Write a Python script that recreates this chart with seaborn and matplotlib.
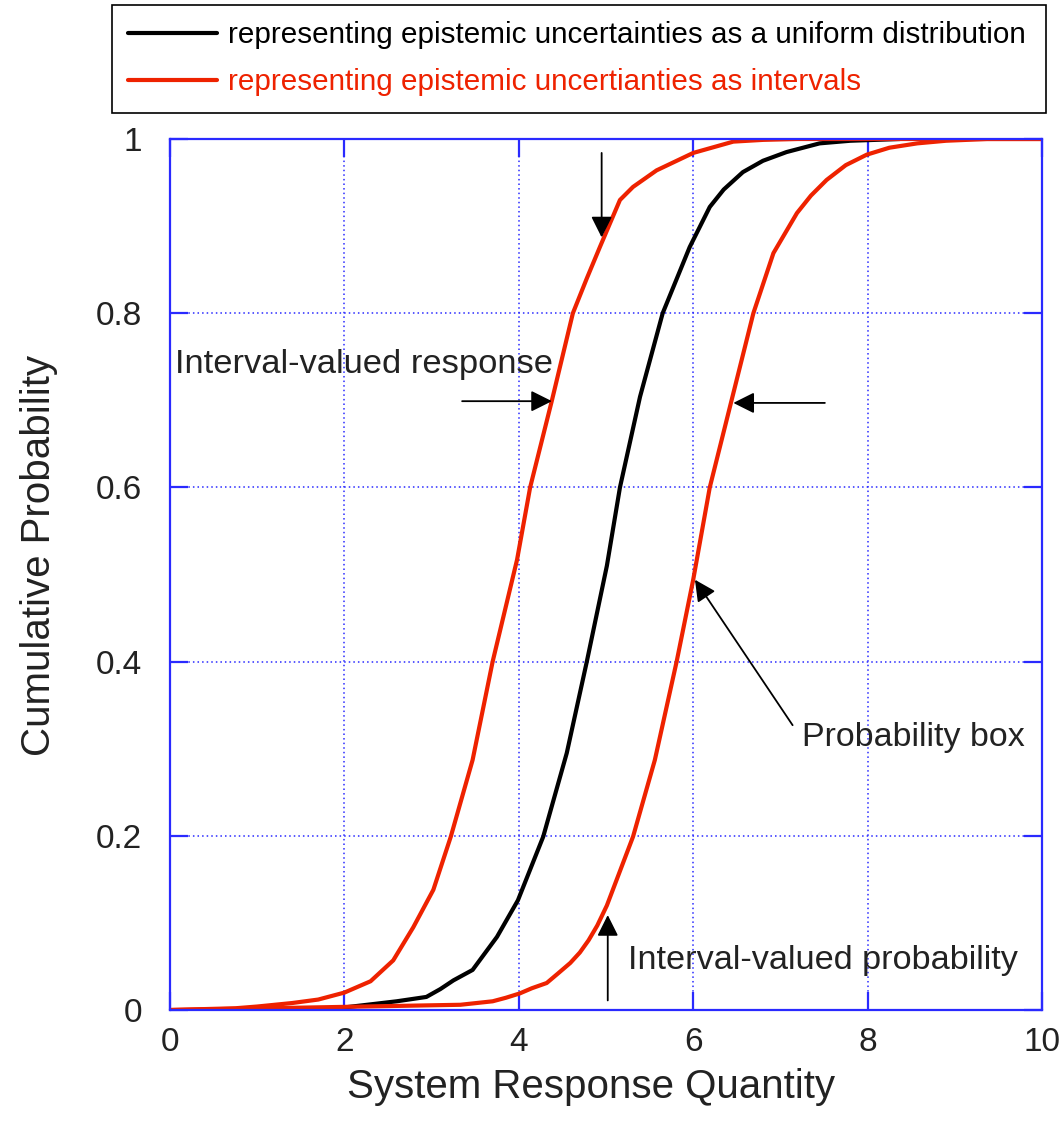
import numpy as np
import pandas as pd
import matplotlib
matplotlib.use("Agg")
import matplotlib.pyplot as plt
import seaborn as sns

# === Data (x = response quantity, y = cumulative probability) ===
red_left_x = [0, 0.75, 1.0, 1.4, 1.7, 2.0, 2.3, 2.56, 2.79, 3.02, 3.22, 3.47, 3.70, 3.98, 4.13, 4.38,
              4.62, 4.78, 4.93, 5.16, 5.31, 5.58, 6.0, 6.46, 6.8, 7.2, 10]
red_left_y = [0, 0.002, 0.004, 0.008, 0.012, 0.02, 0.033, 0.057, 0.095, 0.138, 0.199, 0.287, 0.40, 0.517,
              0.60, 0.70, 0.80, 0.84, 0.876, 0.93, 0.945, 0.964, 0.984, 0.997, 0.999, 1.0, 1.0]

red_right_x = [0, 3.33, 3.7, 3.85, 4.01, 4.15, 4.32, 4.45, 4.59, 4.7, 4.8, 4.9, 5.01, 5.31, 5.56, 5.81,
               6.0, 6.19, 6.44, 6.69, 6.92, 7.19, 7.35, 7.53, 7.75, 7.99, 8.25, 8.57, 8.9, 9.37, 10]
red_right_y = [0, 0.006, 0.01, 0.014, 0.019, 0.025, 0.031, 0.042, 0.054, 0.066, 0.08, 0.097, 0.12, 0.199,
               0.287, 0.40, 0.494, 0.60, 0.70, 0.80, 0.869, 0.915, 0.935, 0.953, 0.97, 0.982, 0.99, 0.995,
               0.998, 1.0, 1.0]

black_x = [1.75, 2.26, 2.6, 2.94, 3.1, 3.25, 3.47, 3.75, 3.99, 4.28, 4.55, 4.78, 5.01, 5.16, 5.39, 5.65,
           5.96, 6.19, 6.35, 6.57, 6.8, 7.07, 7.45, 7.8, 8.37]
black_y = [0.0, 0.006, 0.01, 0.015, 0.024, 0.034, 0.046, 0.084, 0.126, 0.199, 0.295, 0.40, 0.51, 0.60,
           0.704, 0.80, 0.876, 0.922, 0.942, 0.962, 0.975, 0.985, 0.995, 0.998, 1.0]

x_ticks = [0, 2, 4, 6, 8, 10]
y_ticks = [0, 0.2, 0.4, 0.6, 0.8, 1.0]
y_tick_labels = ["0", "0.2", "0.4", "0.6", "0.8", "1"]

label_uniform = "representing epistemic uncertainties as a uniform distribution"
label_interval = "representing epistemic uncertianties as intervals"

# === Style ===
sns.set_style("white")
plt.rcParams["font.family"] = ["Liberation Sans", "DejaVu Sans"]

BLUE = "#2a2aff"
RED = "#ee2200"
TXT = "#222222"

fig = plt.figure(figsize=(10.62, 11.24), dpi=100)
ax = fig.add_axes([0.16008, 0.10142, 0.82109, 0.77491])

sns.lineplot(x=black_x, y=black_y, ax=ax, color="black", linewidth=3,
             sort=False, estimator=None, label=label_uniform)
sns.lineplot(x=red_left_x, y=red_left_y, ax=ax, color=RED, linewidth=3,
             sort=False, estimator=None, label=label_interval)
sns.lineplot(x=red_right_x, y=red_right_y, ax=ax, color=RED, linewidth=3,
             sort=False, estimator=None)

ax.set_xlim(0, 10)
ax.set_ylim(0, 1)
ax.set_xticks(x_ticks)
ax.set_xticklabels([str(v) for v in x_ticks])
ax.set_yticks(y_ticks)
ax.set_yticklabels(y_tick_labels)

# matlab-like box: blue spines, inward ticks on all sides, dotted grid
for sp in ax.spines.values():
    sp.set_color(BLUE)
    sp.set_linewidth(1.6)
    sp.set_visible(True)
ax.tick_params(direction="in", length=13, width=1.6, color=BLUE, labelcolor=TXT,
               labelsize=24, top=True, right=True, bottom=True, left=True)
ax.tick_params(axis="x", pad=12)
ax.tick_params(axis="y", pad=20)
ax.grid(True, color=BLUE, linestyle=(0, (1, 2)), linewidth=1.1)
ax.set_axisbelow(True)

ax.set_xlabel("System Response Quantity", fontsize=29, color=TXT)
ax.set_ylabel("Cumulative Probability", fontsize=29, color=TXT)
ax.xaxis.set_label_coords(0.483, -0.088)
ax.yaxis.set_label_coords(-0.150, 0.522)
ax.xaxis.label.set_va("center")
ax.yaxis.label.set_va("center")

# === Annotations ===
arrow = dict(arrowstyle="-|>", color="black", lw=1.3, mutation_scale=32, shrinkA=0, shrinkB=0)
ax.annotate("", xy=(4.95, 0.887), xytext=(4.95, 0.984), arrowprops=arrow)
ax.annotate("", xy=(4.38, 0.699), xytext=(3.35, 0.699), arrowprops=arrow)
ax.annotate("", xy=(6.46, 0.697), xytext=(7.51, 0.697), arrowprops=arrow)
ax.annotate("", xy=(6.02, 0.494), xytext=(7.14, 0.327), arrowprops=arrow)
ax.annotate("", xy=(5.02, 0.109), xytext=(5.02, 0.011), arrowprops=arrow)

ax.text(0.06, 0.741, "Interval-valued response", fontsize=24.8, color=TXT, va="center", ha="left")
ax.text(7.25, 0.313, "Probability box", fontsize=24.5, color=TXT, va="center", ha="left")
ax.text(5.25, 0.057, "Interval-valued probability", fontsize=24.7, color=TXT, va="center", ha="left")

# === Legend above the axes ===
leg = ax.legend(loc="upper left", bbox_to_anchor=(0.1055, 0.902, 0.8795, 0.0936),
                bbox_transform=fig.transFigure, mode="expand", fontsize=21.3,
                frameon=True, fancybox=False, edgecolor="black", framealpha=1,
                handlelength=3.0, handletextpad=0.38, labelspacing=0.65,
                borderpad=0.55, borderaxespad=0, labelcolor="linecolor")
leg.get_frame().set_linewidth(1.2)

fig.savefig("out.png", dpi=100)
